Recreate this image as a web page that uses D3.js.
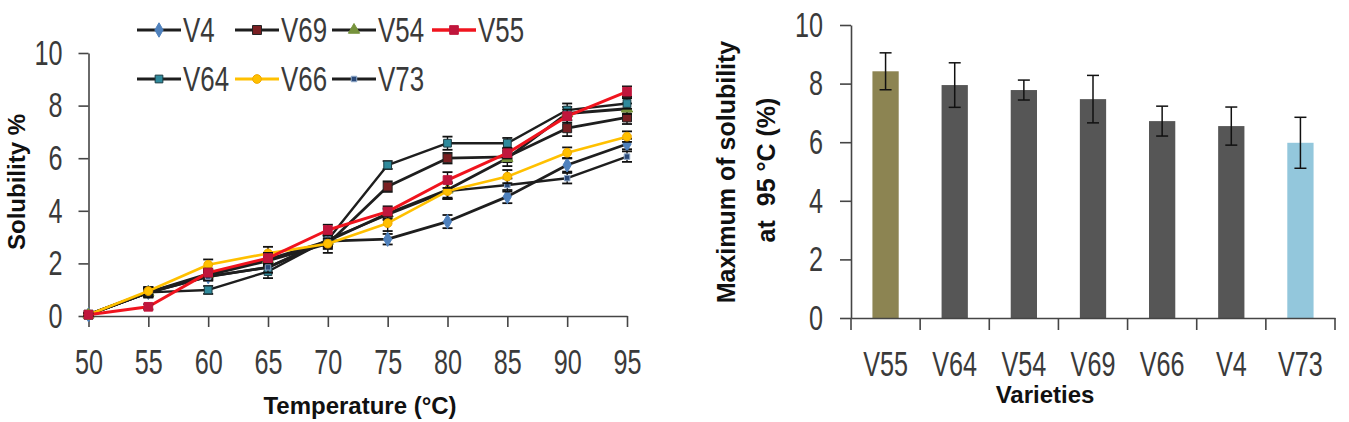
<!DOCTYPE html>
<html><head><meta charset="utf-8">
<script src="https://cdn.jsdelivr.net/npm/d3@7"></script>
<style>
html,body{margin:0;padding:0;background:#fff;}
svg{display:block;}
text{font-family:"Liberation Sans",Arial,Helvetica,sans-serif;}
</style></head><body>
<svg id="chart" width="1349" height="422"></svg>
<script>
// ---------- data: left chart ----------
const temperatures = [50,55,60,65,70,75,80,85,90,95];
const solubilityTicks = [0,2,4,6,8,10];
const seriesNames = ["V4","V69","V54","V55","V64","V66","V73"];
const solV4  = [0.05,0.90,1.50,1.85,2.85,2.92,3.59,4.54,5.74,6.54];
const solV69 = [0.05,0.90,1.55,2.10,2.75,4.92,6.00,6.05,7.14,7.55];
const solV54 = [0.05,0.90,1.60,2.15,2.85,3.90,4.80,6.00,7.70,7.88];
const solV55 = [0.05,0.35,1.65,2.20,3.27,3.97,5.17,6.19,7.60,8.53];
const solV64 = [0.05,0.90,0.99,1.69,2.90,5.74,6.57,6.57,7.83,8.08];
const solV66 = [0.05,0.95,1.95,2.38,2.75,3.53,4.75,5.30,6.21,6.82];
const solV73 = [0.05,0.88,1.50,1.85,2.90,3.85,4.75,4.98,5.24,6.06];
const errV4  = [0.05,0.15,0.15,0.20,0.20,0.20,0.25,0.25,0.25,0.20];
const errV69 = [0.05,0.15,0.15,0.20,0.35,0.20,0.20,0.20,0.30,0.25];
const errV54 = [0.05,0.15,0.15,0.20,0.20,0.20,0.30,0.30,0.25,0.20];
const errV55 = [0.05,0.10,0.15,0.20,0.20,0.20,0.30,0.20,0.25,0.20];
const errV64 = [0.05,0.20,0.15,0.25,0.25,0.15,0.25,0.20,0.25,0.20];
const errV66 = [0.05,0.15,0.20,0.25,0.20,0.30,0.30,0.25,0.20,0.20];
const errV73 = [0.05,0.15,0.15,0.20,0.20,0.20,0.30,0.25,0.20,0.20];

// ---------- data: right chart ----------
const varieties = ["V55","V64","V54","V69","V66","V4","V73"];
const maxSolubility = [8.42,7.95,7.78,7.47,6.72,6.55,5.98];
const maxSolubilityErr = [0.63,0.76,0.34,0.81,0.51,0.65,0.87];
const maxTicks = [0,2,4,6,8,10];

// ---------- styles ----------
const seriesValues = {V4:solV4,V69:solV69,V54:solV54,V55:solV55,V64:solV64,V66:solV66,V73:solV73};
const seriesErr = {V4:errV4,V69:errV69,V54:errV54,V55:errV55,V64:errV64,V66:errV66,V73:errV73};
const seriesStyle = {
  V4:  {line:"#1e1e1e", w:2.8, marker:d3.symbolDiamond, size:60, fill:"#4f81bd", stroke:"#4f81bd"},
  V69: {line:"#1e1e1e", w:2.8, marker:d3.symbolSquare,  size:80, fill:"#7a1f22", stroke:"#222"},
  V54: {line:"#1e1e1e", w:2.8, marker:d3.symbolTriangle,size:55, fill:"#77933c", stroke:"#77933c"},
  V55: {line:"#f0141e", w:3.0, marker:d3.symbolSquare,  size:75, fill:"#c0163c", stroke:"#c0163c"},
  V64: {line:"#1e1e1e", w:2.4, marker:d3.symbolSquare,  size:60, fill:"#2f8a9c", stroke:"#1c3d44"},
  V66: {line:"#ffc000", w:2.6, marker:d3.symbolCircle,  size:60, fill:"#ffc000", stroke:"#f0a800"},
  V73: {line:"#1e1e1e", w:2.4, marker:d3.symbolSquare,  size:30, fill:"#2b4a7a", stroke:"#8fa9c9"}
};
const drawOrder = ["V4","V69","V54","V64","V73","V66","V55"];
const barColor = {V55:"#8c8452", V73:"#93c7dc"};
const axisColor = "#454545";
const labelColor = "#3a3a3a";
const SX = 0.72;

const svg = d3.select("#chart");

function condense(sel, sx){
  sel.each(function(){
    const t = d3.select(this);
    const x = +t.attr("x") || 0;
    t.attr("x", x/sx).attr("transform", `scale(${sx},1)`);
  });
}
function styleAxis(g, fs){
  g.selectAll("path.domain").attr("stroke", axisColor).attr("stroke-width", 1.6);
  g.selectAll(".tick line").attr("stroke", axisColor).attr("stroke-width", 1.6);
  g.selectAll(".tick text").attr("fill", labelColor).attr("font-size", fs).attr("font-family", '"Liberation Sans",Arial,sans-serif');
  condense(g.selectAll(".tick text"), SX);
}

// ================= LEFT CHART =================
const xL = d3.scaleLinear().domain([50,95]).range([88.5,627]);
const yL = d3.scaleLinear().domain([0,10]).range([316,53]);

const gyL = svg.append("g").attr("transform", `translate(${xL(50)},0)`)
  .call(d3.axisLeft(yL).tickValues(solubilityTicks).tickSize(10).tickPadding(16).tickSizeOuter(0));
styleAxis(gyL, 35);
const gxL = svg.append("g").attr("transform", `translate(0,${yL(0)})`)
  .call(d3.axisBottom(xL).tickValues(temperatures).tickSize(11).tickPadding(22).tickSizeOuter(0));
styleAxis(gxL, 35);

const line = d3.line().x((d,i)=>xL(temperatures[i])).y(d=>yL(d));

drawOrder.forEach(name=>{
  const st = seriesStyle[name];
  const vals = seriesValues[name], errs = seriesErr[name];
  const g = svg.append("g");
  g.append("path").datum(vals).attr("d", line).attr("fill","none")
    .attr("stroke", st.line).attr("stroke-width", st.w).attr("stroke-linejoin","round");
  const eb = g.selectAll("g.eb").data(vals).join("g");
  eb.append("line").attr("x1",(d,i)=>xL(temperatures[i])).attr("x2",(d,i)=>xL(temperatures[i]))
    .attr("y1",(d,i)=>yL(d+errs[i])).attr("y2",(d,i)=>yL(d-errs[i]))
    .attr("stroke","#111").attr("stroke-width",1.4);
  [1,-1].forEach(s=>{
    eb.append("line").attr("x1",(d,i)=>xL(temperatures[i])-5).attr("x2",(d,i)=>xL(temperatures[i])+5)
      .attr("y1",(d,i)=>yL(d+s*errs[i])).attr("y2",(d,i)=>yL(d+s*errs[i]))
      .attr("stroke","#111").attr("stroke-width",1.8);
  });
  g.selectAll("path.m").data(vals).join("path").attr("class","m")
    .attr("transform",(d,i)=>`translate(${xL(temperatures[i])},${yL(d)})`)
    .attr("d", d3.symbol().type(st.marker).size(st.size)())
    .attr("fill", st.fill).attr("stroke", st.stroke).attr("stroke-width",1);
});

// legend
const legendRows = [["V4","V69","V54","V55"],["V64","V66","V73"]];
const legendX = [137,235,332,432];
const legendY = [30,79];
legendRows.forEach((row,r)=>{
  row.forEach((name,c)=>{
    const st = seriesStyle[name];
    const x0 = legendX[c], y0 = legendY[r];
    const g = svg.append("g");
    g.append("line").attr("x1",x0).attr("x2",x0+44).attr("y1",y0).attr("y2",y0)
      .attr("stroke",st.line).attr("stroke-width",st.w+0.4);
    g.append("path").attr("transform",`translate(${x0+22},${y0})`)
      .attr("d", d3.symbol().type(st.marker).size(st.size)())
      .attr("fill",st.fill).attr("stroke",st.stroke).attr("stroke-width",1);
    g.append("text").attr("transform",`translate(${x0+46},${y0+12}) scale(0.74,1)`)
      .attr("font-size",35).attr("fill",labelColor).text(name);
  });
});

// titles
svg.append("text").attr("transform","translate(25,182) rotate(-90)")
  .attr("text-anchor","middle").attr("font-size",24).attr("font-weight","bold").attr("fill","#111")
  .text("Solubility %");
svg.append("text").attr("transform","translate(360,414)")
  .attr("text-anchor","middle").attr("font-size",24).attr("font-weight","bold").attr("fill","#111")
  .text("Temperature (°C)");

// ================= RIGHT CHART =================
const xR = d3.scaleBand().domain(varieties).range([851,1335]).paddingInner(0).paddingOuter(0);
const yR = d3.scaleLinear().domain([0,10]).range([318,25]);

const gyR = svg.append("g").attr("transform", `translate(${xR.range()[0]},0)`)
  .call(d3.axisLeft(yR).tickValues(maxTicks).tickSize(11).tickPadding(17).tickSizeOuter(0));
styleAxis(gyR, 35);

const bw = xR.bandwidth();
svg.append("g").selectAll("rect").data(varieties).join("rect")
  .attr("x", d=>xR(d)+bw*0.31).attr("width", bw*0.38)
  .attr("y", (d,i)=>yR(maxSolubility[i])).attr("height",(d,i)=>yR(0)-yR(maxSolubility[i]))
  .attr("fill", d=>barColor[d] || "#565656");

const ebR = svg.append("g").selectAll("g").data(varieties).join("g");
ebR.append("line").attr("x1",d=>xR(d)+bw/2).attr("x2",d=>xR(d)+bw/2)
  .attr("y1",(d,i)=>yR(maxSolubility[i]+maxSolubilityErr[i])).attr("y2",(d,i)=>yR(maxSolubility[i]-maxSolubilityErr[i]))
  .attr("stroke","#111").attr("stroke-width",1.5);
[1,-1].forEach(s=>{
  ebR.append("line").attr("x1",d=>xR(d)+bw/2-6).attr("x2",d=>xR(d)+bw/2+6)
    .attr("y1",(d,i)=>yR(maxSolubility[i]+s*maxSolubilityErr[i])).attr("y2",(d,i)=>yR(maxSolubility[i]+s*maxSolubilityErr[i]))
    .attr("stroke","#111").attr("stroke-width",1.5);
});

const gxR = svg.append("g").attr("transform", `translate(0,${yR(0)})`)
  .call(d3.axisBottom(xR).tickSize(0).tickPadding(33).tickSizeOuter(0));
styleAxis(gxR, 35);
const bounds = varieties.map(d=>xR(d)).concat([xR.range()[1]]);
gxR.selectAll("line.bt").data(bounds).join("line").attr("class","bt")
  .attr("x1",d=>d).attr("x2",d=>d).attr("y1",0).attr("y2",12)
  .attr("stroke",axisColor).attr("stroke-width",1.6);

svg.append("text").attr("transform","translate(735,172) rotate(-90)")
  .attr("text-anchor","middle").attr("font-size",25).attr("font-weight","bold").attr("fill","#111")
  .text("Maximum of solubility");
svg.append("text").attr("transform","translate(775,170) rotate(-90)")
  .attr("text-anchor","middle").attr("font-size",25).attr("font-weight","bold").attr("fill","#111")
  .attr("xml:space","preserve").style("white-space","pre")
  .text("at  95 °C (%)");
svg.append("text").attr("transform","translate(1045,403)")
  .attr("text-anchor","middle").attr("font-size",24).attr("font-weight","bold").attr("fill","#111")
  .text("Varieties");
</script>
</body></html>
